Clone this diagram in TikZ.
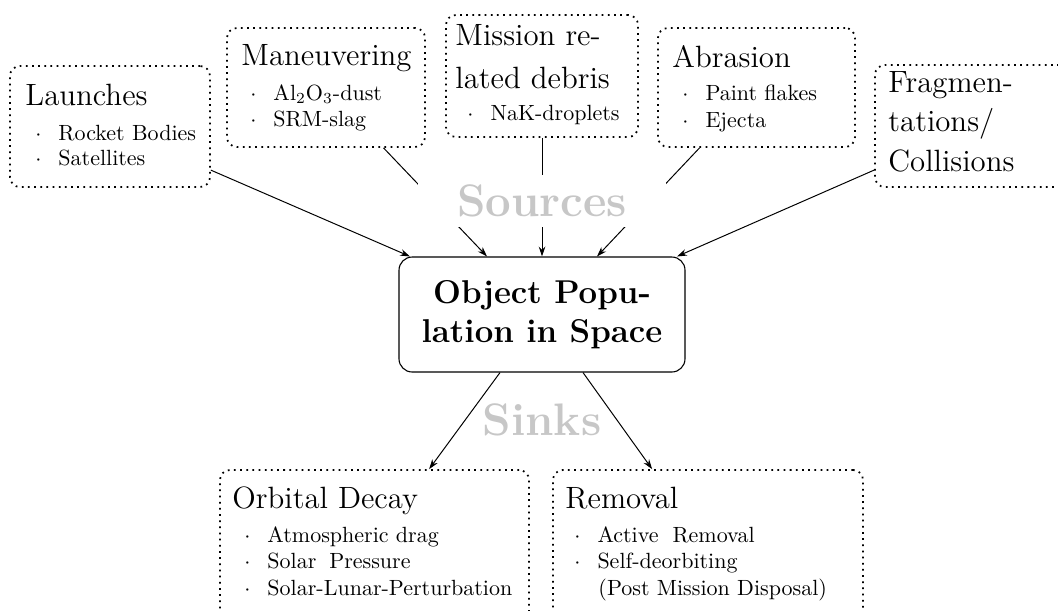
\documentclass[tikz,border=0pt]{standalone}
\usetikzlibrary{arrows.meta,calc,fit}
\definecolor{lblgray}{gray}{0.78}
\newcommand\bul{$\cdot$\hspace{7.7pt}}
\tikzset{
  dbox/.style={draw, rounded corners=4.5pt, line width=0.8pt, dash pattern=on 0.8pt off 2pt, inner sep=0pt},
  obox/.style={draw, rounded corners=6pt, line width=0.5pt, inner sep=0pt},
  ttl/.style={anchor=base west, inner sep=0pt, font=\fontsize{14}{16}\selectfont},
  itm/.style={anchor=base west, inner sep=0pt, font=\fontsize{10}{12}\selectfont},
  otxt/.style={anchor=base, inner sep=0pt, font=\fontsize{15}{18}\selectfont\bfseries},
  lbl/.style={inner sep=0pt, text=lblgray, font=\fontsize{20.7}{25}\selectfont\bfseries},
  arr/.style={-{Stealth[length=4.5pt,width=3pt]}, line width=0.45pt}
}
\begin{document}
\begin{tikzpicture}[x=0.4545pt,y=-0.4545pt]
\useasboundingbox (0,0) rectangle (1058,610);
\clip (0,0) rectangle (1058,610);
% boxes
\node[dbox, fit={(10,66) (210,187)}] (launch) {};
\node[dbox, fit={(227,28) (425,147)}] (manu) {};
\node[dbox, fit={(446,15) (638,137)}] (mission) {};
\node[dbox, fit={(658,28) (855,147)}] (abr) {};
\node[dbox, fit={(875,65) (1075,187)}] (frag) {};
\node[obox, fit={(399,257) (685,372)}] (obj) {};
\node[dbox, fit={(220,470) (529,650)}] (orb) {};
\node[dbox, fit={(553,470) (863,650)}] (rem) {};
% connector end points
\coordinate (t1) at ($(obj.north)+(-132,0)$);
\coordinate (t2) at ($(obj.north)+(-55,0)$);
\coordinate (t4) at ($(obj.north)+(55,0)$);
\coordinate (t5) at ($(obj.north)+(135,0)$);
\coordinate (s1) at ($(obj.south)+(-42,0)$);
\coordinate (s2) at ($(obj.south)+(41,0)$);
\coordinate (b1) at ($(orb.north west)+(210,0)$);
\coordinate (b2) at ($(rem.north west)+(100,0)$);
% connectors
\draw[arr] (launch) -- (t1);
\draw[arr] (manu) -- (t2);
\draw[arr] (mission) -- (obj);
\draw[arr] (abr) -- (t4);
\draw[arr] (frag) -- (t5);
\draw[arr] (s1) -- (b1);
\draw[arr] (s2) -- (b2);
% labels
\node[lbl, fill=white, minimum width=112.7pt, minimum height=23.6pt] (src) at (542,201) {Sources};
\node[lbl, anchor=base] (sinks) at (542,435) {Sinks};
% texts
\node[ttl] (launchT) at (25,105) {Launches};
\node[itm] (launchA) at (35,140) {\bul Rocket Bodies};
\node[itm] (launchB) at (35,165) {\bul Satellites};
\node[ttl] (manuT) at (241,65) {Maneuvering};
\node[itm] (manuA) at (250,100) {\bul Al$_2$O$_3$-dust};
\node[itm] (manuB) at (250,126) {\bul SRM-slag};
\node[ttl] (misT1) at (455,45) {Mission re-};
\node[ttl] (misT2) at (455,88) {lated debris};
\node[itm] (misA) at (467,120) {\bul NaK-droplets};
\node[ttl] (abrT) at (672,67) {Abrasion};
\node[itm] (abrA) at (682,100) {\bul Paint flakes};
\node[itm] (abrB) at (682,127) {\bul Ejecta};
\node[ttl] (fragT1) at (888,92) {Fragmen-};
\node[ttl] (fragT2) at (888,131) {tations/};
\node[ttl] (fragT3) at (888,171) {Collisions};
\node[otxt] (objT1) at (542,303) {Object Popu-};
\node[otxt] (objT2) at (542,342) {lation in Space};
\node[ttl] (orbT) at (232,508) {Orbital Decay};
\node[itm] (orbA) at (244,542) {\bul Atmospheric drag};
\node[itm] (orbB) at (244,568) {\bul Solar\hspace{2.5pt} Pressure};
\node[itm] (orbC) at (244,595) {\bul Solar-Lunar-Perturbation};
\node[ttl] (remT) at (565,508) {Removal};
\node[itm] (remA) at (574,542) {\bul Active\hspace{3pt} Removal};
\node[itm] (remB) at (574,568) {\bul Self-deorbiting};
\node[itm] (remC) at (598,595) {(Post Mission Disposal)};
\end{tikzpicture}
\end{document}
